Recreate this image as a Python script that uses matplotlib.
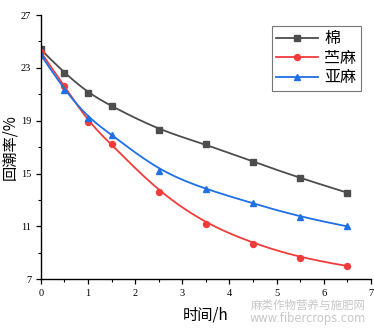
import numpy as np
import matplotlib
matplotlib.use("Agg")
import matplotlib.pyplot as plt
from matplotlib.ticker import FixedLocator, MultipleLocator

plt.rcParams['font.family'] = ['Liberation Serif', 'Noto Sans CJK SC', 'DejaVu Sans']

hours = [0, 0.5, 1, 1.5, 2.5, 3.5, 4.5, 5.5, 6.5]
cotton = [24.4, 22.6, 21.1, 20.1, 18.3, 17.2, 15.9, 14.65, 13.55]
ramie = [24.2, 21.6, 18.9, 17.2, 13.6, 11.2, 9.7, 8.6, 8.0]
flax = [24.0, 21.3, 19.2, 17.95, 15.2, 13.8, 12.75, 11.7, 11.0]
labels = ['棉', '苎麻', '亚麻']
colors = ['#4d4d4d', '#f23c3c', '#1f6fe6']
markers = ['s', 'o', '^']
yticks = [7, 11, 15, 19, 23, 27]


def bspline(x, y, n=400, k=3):
    """Clamped cubic B-spline using the data points as control points."""
    P = np.column_stack([x, y]).astype(float)
    m = len(P)
    inner = np.arange(1, m - k)
    t = np.concatenate([np.zeros(k + 1), inner, np.full(k + 1, m - k)]).astype(float)
    u = np.linspace(0, m - k, n)
    u[-1] -= 1e-9
    N = np.zeros((n, len(t) - 1))
    for i in range(len(t) - 1):
        N[:, i] = ((u >= t[i]) & (u < t[i + 1])).astype(float)
    for d in range(1, k + 1):
        Nn = np.zeros((n, len(t) - 1 - d))
        for i in range(len(t) - 1 - d):
            a = 0.0
            if t[i + d] != t[i]:
                a = (u - t[i]) / (t[i + d] - t[i]) * N[:, i]
            b = 0.0
            if t[i + d + 1] != t[i + 1]:
                b = (t[i + d + 1] - u) / (t[i + d + 1] - t[i + 1]) * N[:, i + 1]
            Nn[:, i] = a + b
        N = Nn
    C = N @ P
    return C[:, 0], C[:, 1]


fig = plt.figure(figsize=(3.74, 3.34), dpi=100)
ax = fig.add_axes([0.109, 0.164, 0.883, 0.791])

for ys, lab, c, mk in zip([cotton, ramie, flax], labels, colors, markers):
    sx, sy = bspline(hours, ys)
    ax.plot(sx, sy, color=c, lw=1.3)
    ax.plot(hours, ys, linestyle='none', marker=mk, color=c, ms=4.3)
    ax.plot([], [], color=c, lw=1.3, marker=mk, ms=4.3, label=lab)

ax.set_xlim(0, 7)
ax.set_ylim(7, 27)
ax.xaxis.set_major_locator(MultipleLocator(1))
ax.xaxis.set_minor_locator(MultipleLocator(0.5))
ax.yaxis.set_major_locator(FixedLocator(yticks))
ax.yaxis.set_minor_locator(FixedLocator([9, 13, 17, 21, 25]))
ax.tick_params(which='major', direction='out', length=3.5, width=0.9, labelsize=7.5)
ax.tick_params(which='minor', direction='out', length=2, width=0.8)
for s in ['top', 'right']:
    ax.spines[s].set_visible(False)
for s in ['left', 'bottom']:
    ax.spines[s].set_linewidth(1.0)

ax.set_xlabel('时间/h', fontsize=11, family=['Noto Sans CJK SC', 'Liberation Serif'], labelpad=6)
ax.set_ylabel('回潮率/%', fontsize=11, family=['Noto Sans CJK SC', 'Liberation Serif'], labelpad=2)

leg = ax.legend(loc='upper right', bbox_to_anchor=(0.97, 0.96),
                prop={'family': ['Noto Sans CJK SC'], 'size': 11.5},
                frameon=True, fancybox=False, edgecolor='#555555', handlelength=2.6,
                borderpad=0.3, labelspacing=0.15, handletextpad=0.4, borderaxespad=0)
leg.get_frame().set_linewidth(0.8)

fig.text(0.823, 0.085, '麻类作物营养与施肥网', fontsize=8.3, color='#c8c8c8',
         family=['Noto Sans CJK SC'], ha='center', va='center')
fig.text(0.823, 0.047, 'www.fibercrops.com', fontsize=8.3, color='#c8c8c8',
         family=['DejaVu Sans'], ha='center', va='center')

fig.savefig('out.png', dpi=100)
